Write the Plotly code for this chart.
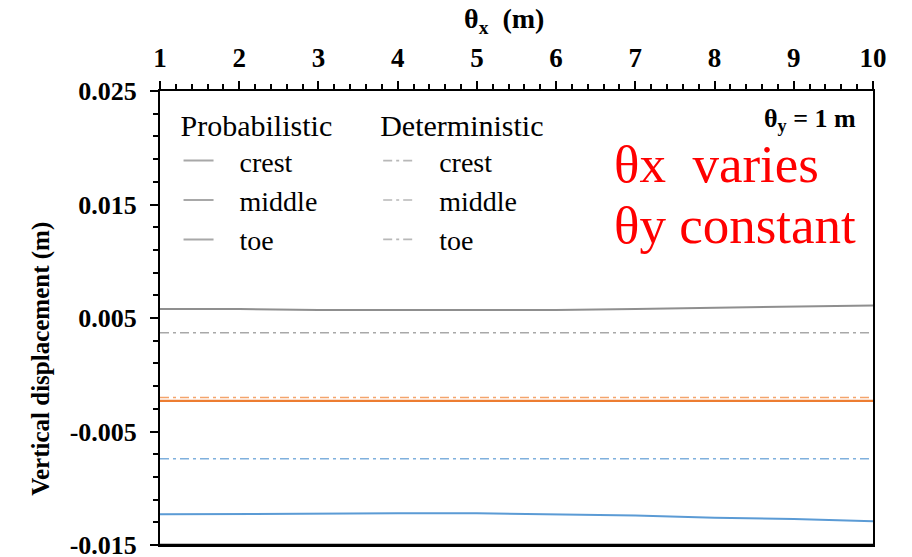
import plotly.graph_objects as go

theta_x = [1, 2, 3, 4, 5, 6, 7, 8, 9, 10]

# Probabilistic
prob_crest = [0.0058, 0.0058, 0.0057, 0.0057, 0.0057, 0.0057, 0.0058, 0.0059, 0.0060, 0.0061]
prob_middle = [-0.0023, -0.0023, -0.0023, -0.0023, -0.0023, -0.0023, -0.0023, -0.0023, -0.0023, -0.0023]
prob_toe = [-0.0123, -0.01225, -0.0122, -0.0122, -0.0122, -0.0123, -0.0124, -0.0126, -0.0127, -0.0129]

# Deterministic
det_crest = [0.0037, 0.0037, 0.0037, 0.0037, 0.0037, 0.0037, 0.0037, 0.0037, 0.0037, 0.0037]
det_middle = [-0.0020, -0.0020, -0.0020, -0.0020, -0.0020, -0.0020, -0.0020, -0.0020, -0.0020, -0.0020]
det_toe = [-0.0074, -0.0074, -0.0074, -0.0074, -0.0074, -0.0074, -0.0074, -0.0074, -0.0074, -0.0074]

x_ticks = [1, 2, 3, 4, 5, 6, 7, 8, 9, 10]
y_ticks = [0.025, 0.015, 0.005, -0.005, -0.015]
y_ticktext = ["0.025", "0.015", "0.005", "-0.005", "-0.015"]
legend_labels = ["crest", "middle", "toe"]

GRAY = "#8f8f8f"
ORANGE = "#ED7D31"
BLUE = "#5B9BD5"
SERIF = "Liberation Serif"
DASHDOT = "9px,4px,3px,4px"
PAD = "\u00a0\u00a0\u00a0"

fig = go.Figure()

# data traces
fig.add_trace(go.Scatter(x=theta_x, y=det_crest, mode="lines", showlegend=False,
                         line=dict(color="#a8a8a8", width=1.6, dash=DASHDOT)))
fig.add_trace(go.Scatter(x=theta_x, y=det_middle, mode="lines", showlegend=False,
                         line=dict(color="#F4A46C", width=1.6, dash=DASHDOT)))
fig.add_trace(go.Scatter(x=theta_x, y=det_toe, mode="lines", showlegend=False,
                         line=dict(color="#7FB0DD", width=1.6, dash=DASHDOT)))
fig.add_trace(go.Scatter(x=theta_x, y=prob_crest, mode="lines", showlegend=False,
                         line=dict(color=GRAY, width=2)))
fig.add_trace(go.Scatter(x=theta_x, y=prob_middle, mode="lines", showlegend=False,
                         line=dict(color=ORANGE, width=2.2)))
fig.add_trace(go.Scatter(x=theta_x, y=prob_toe, mode="lines", showlegend=False,
                         line=dict(color=BLUE, width=2)))

# legend entries (gray samples as in the original)
for lab in legend_labels:
    fig.add_trace(go.Scatter(x=[None], y=[None], mode="lines", name=PAD + lab,
                             legend="legend", line=dict(color="#a8a8a8", width=2)))
for lab in legend_labels:
    fig.add_trace(go.Scatter(x=[None], y=[None], mode="lines", name=PAD + lab,
                             legend="legend2", line=dict(color="#b8b8b8", width=1.6, dash=DASHDOT)))

legend_common = dict(
    font=dict(family=SERIF, size=28, color="black"),
    bgcolor="rgba(0,0,0,0)",
    yanchor="top",
    tracegroupgap=0,
    itemwidth=30,
)

fig.update_layout(
    width=912, height=557,
    paper_bgcolor="white", plot_bgcolor="white",
    margin=dict(l=160, r=39, t=91, b=12),
    font=dict(family=SERIF, color="black"),
    legend=dict(title=dict(text="Probabilistic", font=dict(family=SERIF, size=30)),
                x=0.026, y=0.987, **legend_common),
    legend2=dict(title=dict(text="Deterministic", font=dict(family=SERIF, size=30)),
                 x=0.306, y=0.987, **legend_common),
    xaxis=dict(
        side="top", range=[1, 10], tickvals=x_ticks, automargin=False,
        ticks="outside", ticklen=8, tickwidth=2, tickcolor="black",
        minor=dict(dtick=0.2, tick0=1, ticklen=5, tickwidth=1.5, tickcolor="black", ticks="outside"),
        showline=True, linewidth=2, linecolor="black", mirror=True,
        showgrid=False, zeroline=False,
        ticklabelstandoff=3, ticklabeloverflow="allow",
        tickfont=dict(family=SERIF, size=27, color="black", weight="bold"),
    ),
    yaxis=dict(
        range=[-0.015, 0.025], tickvals=y_ticks, ticktext=y_ticktext, automargin=False,
        ticks="outside", ticklen=8, tickwidth=2, tickcolor="black",
        minor=dict(dtick=0.002, tick0=-0.015, ticklen=5, tickwidth=1.5, tickcolor="black", ticks="outside"),
        showline=True, linewidth=2, linecolor="black", mirror=True,
        showgrid=False, zeroline=False,
        ticklabelstandoff=8, ticklabeloverflow="allow",
        tickfont=dict(family=SERIF, size=26, color="black", weight="bold"),
    ),
    shapes=[
        dict(type="line", xref="paper", yref="paper", x0=0, x1=1, y0=0, y1=0,
             line=dict(color="black", width=2.5), layer="above"),
    ],
    annotations=[
        dict(text="θ<sub>x</sub>\u00a0 (m)", xref="paper", yref="paper", x=0.482, y=1.155,
             xanchor="center", yanchor="middle", showarrow=False,
             font=dict(family=SERIF, size=28, color="black", weight="bold")),
        dict(text="Vertical displacement (m)", xref="paper", yref="paper", x=-0.167, y=0.41,
             xanchor="center", yanchor="middle", showarrow=False, textangle=-90,
             font=dict(family=SERIF, size=25, color="black", weight="bold")),
        dict(text="θ<sub>y</sub> = 1 m", xref="paper", yref="paper", x=0.979, y=0.936,
             xanchor="right", yanchor="middle", showarrow=False,
             font=dict(family=SERIF, size=26, color="black", weight="bold")),
        dict(text="θx\u00a0 varies", xref="paper", yref="paper", x=0.634, y=0.84,
             xanchor="left", yanchor="middle", showarrow=False,
             font=dict(family=SERIF, size=53, color="red")),
        dict(text="θy constant", xref="paper", yref="paper", x=0.634, y=0.705,
             xanchor="left", yanchor="middle", showarrow=False,
             font=dict(family=SERIF, size=53, color="red")),
    ],
)

# remove the default page margin so the 912x557 figure fills the window exactly
fig.write_html(
    "out.html",
    config={"displayModeBar": False},
    post_script="document.body.style.margin='0';document.body.style.overflow='hidden';",
)
